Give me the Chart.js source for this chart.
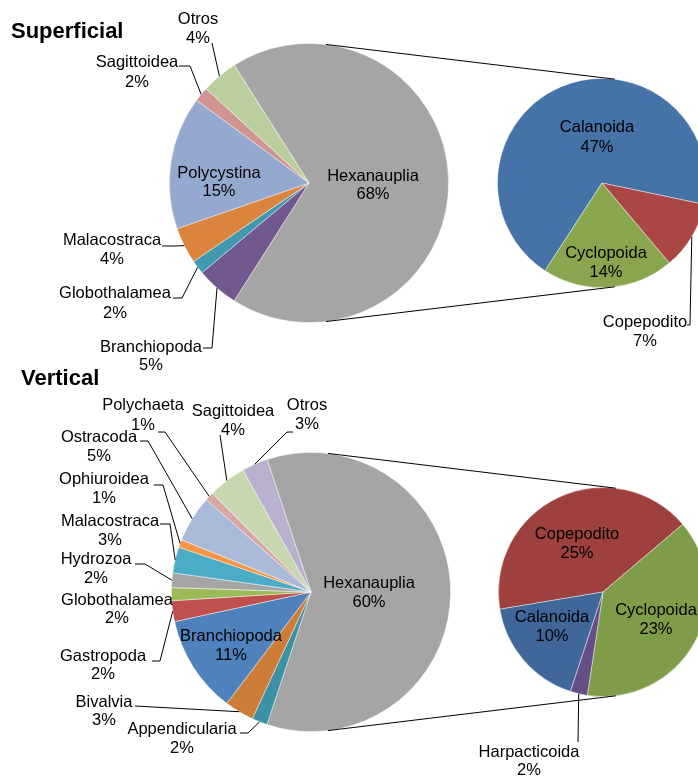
<!DOCTYPE html>
<html>
<head>
<meta charset="utf-8">
<script src="https://cdn.jsdelivr.net/npm/chart.js@4/dist/chart.umd.min.js"></script>
<style>
    html, body { margin: 0; padding: 0; background: #fff; overflow: hidden; }
    #wrap { position: relative; width: 698px; height: 776px; overflow: hidden; }
    #wrap canvas { position: absolute; left: 0; top: 0; }
    .title { position: absolute; font: bold 22px "Liberation Sans", Arial, sans-serif; color: #000; }
</style>
</head>
<body>
<div id="wrap">
    <canvas id="supMain" width="720" height="776"></canvas>
    <canvas id="supSub" width="720" height="776"></canvas>
    <canvas id="verMain" width="720" height="776"></canvas>
    <canvas id="verSub" width="720" height="776"></canvas>
    <div class="title" style="left:11px; top:18px;">Superficial</div>
    <div class="title" style="left:21px; top:365px;">Vertical</div>
</div>
<script>
// Superficial - main pie (clockwise from the split slice)
const supLabels = ["Hexanauplia", "Branchiopoda", "Globothalamea", "Malacostraca", "Polycystina", "Sagittoidea", "Otros"];
const supValues = [68.0, 4.9, 1.6, 4.2, 15.4, 1.7, 4.2];
// Superficial - Hexanauplia breakdown
const supSubLabels = ["Calanoida", "Copepodito", "Cyclopoida"];
const supSubValues = [47.0, 7.2, 13.8];

// Vertical - main pie
const verLabels = ["Hexanauplia", "Appendicularia", "Bivalvia", "Branchiopoda", "Gastropoda", "Globothalamea",
    "Hydrozoa", "Malacostraca", "Ophiuroidea", "Ostracoda", "Polychaeta", "Sagittoidea", "Otros"];
const verValues = [60.2, 1.8, 3.4, 11.3, 2.4, 1.5, 1.7, 3.0, 0.9, 5.4, 1.0, 4.4, 3.0];
// Vertical - Hexanauplia breakdown
const verSubLabels = ["Copepodito", "Cyclopoida", "Harpacticoida", "Calanoida"];
const verSubValues = [24.9, 23.2, 1.6, 10.4];

// colours
const supColors = ["#A5A5A5", "#71588F", "#4198AF", "#DB843D", "#95A9D0", "#D29493", "#BACF9B"];
const supSubColors = ["#4572A7", "#AA4643", "#89A54E"];
const verColors = ["#A5A5A5", "#3D91A7", "#CE7D38", "#4F81BD", "#C0504D", "#9BBB59",
    "#A5A5A5", "#4BACC6", "#F79646", "#A9BAD8", "#D9A6A6", "#C7D7B0", "#B9B0CE"];
const verSubColors = ["#9E413E", "#7F9C48", "#664F87", "#3F679A"];

// label placement: [x, line1 y, line2 y, leader path near the label (or null)]
const supPlace = [
    [373, 176, 194, null],
    [151, 347, 365, [[203, 348], [212, 348]]],
    [115, 293, 313, [[173, 298], [182, 298]]],
    [112, 240, 259, [[162, 246], [176, 246]]],
    [219, 173, 191, null],
    [137, 62, 82, [[179, 66], [190, 66]]],
    [198, 19, 38, [[212, 43]]],
];
const supSubPlace = [
    [597, 127, 147, null],
    [645, 322, 341, [[687, 325], [690, 325]]],
    [606, 253, 272, null],
];
const verPlace = [
    [369, 583, 602, null],
    [182, 729, 748, [[240, 733], [248, 733]]],
    [104, 702, 720, [[135, 706]]],
    [231, 636, 655, null],
    [103, 656, 674, [[152, 661], [160, 661]]],
    [117, 600, 618, null],
    [96, 559, 578, [[135, 564], [145, 564]]],
    [110, 521, 540, [[160, 524], [170, 524]]],
    [104, 479, 498, [[154, 485], [163, 485]]],
    [99, 437, 456, [[140, 441], [148, 441]]],
    [143, 405, 425, [[158, 432], [165, 432]]],
    [233, 411, 430, [[220, 435]]],
    [307, 405, 424, [[293, 432], [287, 432]]],
];
const verSubPlace = [
    [577, 534, 553, null],
    [656, 610, 629, null],
    [529, 752, 770, [[578, 742]]],
    [552, 617, 636, null],
];

const FONT = '16.5px "Liberation Sans", Arial, sans-serif';
const LINK_ANGLE = 83 * Math.PI / 180;

const sliceLabels = {
    id: "sliceLabels",
    afterDatasetsDraw(chart, args, opts) {
        const ctx = chart.ctx;
        const meta = chart.getDatasetMeta(0);
        const values = chart.data.datasets[0].data;
        ctx.save();
        ctx.font = FONT;
        ctx.fillStyle = "#000";
        ctx.strokeStyle = "#000";
        ctx.lineWidth = 1;
        ctx.textAlign = "center";
        ctx.textBaseline = "middle";
        meta.data.forEach((arc, i) => {
            const p = opts.place[i];
            if (!p) return;
            const [x, y1, y2, path] = p;
            if (path) {
                const mid = (arc.startAngle + arc.endAngle) / 2;
                ctx.beginPath();
                ctx.moveTo(path[0][0], path[0][1]);
                for (let k = 1; k < path.length; k++) ctx.lineTo(path[k][0], path[k][1]);
                ctx.lineTo(arc.x + Math.cos(mid) * arc.outerRadius, arc.y + Math.sin(mid) * arc.outerRadius);
                ctx.stroke();
            }
            ctx.fillText(chart.data.labels[i], x, y1);
            ctx.fillText(Math.round(values[i]) + "%", x, y2);
        });
        // connector lines from the main pie to the breakdown pie
        if (opts.main) {
            const big = opts.main.getDatasetMeta(0).data[0];
            const small = meta.data[0];
            ctx.beginPath();
            [-1, 1].forEach(s => {
                ctx.moveTo(big.x + Math.cos(s * LINK_ANGLE) * big.outerRadius, big.y + Math.sin(s * LINK_ANGLE) * big.outerRadius);
                ctx.lineTo(small.x + Math.cos(s * LINK_ANGLE) * small.outerRadius, small.y + Math.sin(s * LINK_ANGLE) * small.outerRadius);
            });
            ctx.stroke();
        }
        ctx.restore();
    }
};

function makePie(id, labels, values, colors, rotation, padding, place, main) {
    return new Chart(document.getElementById(id), {
        type: "pie",
        data: {
            labels: labels,
            datasets: [{
                data: values,
                backgroundColor: colors,
                borderColor: "rgba(255,255,255,0.55)",
                borderWidth: 0.8,
            }]
        },
        options: {
            responsive: false,
            animation: false,
            events: [],
            rotation: rotation,
            layout: { padding: padding },
            plugins: {
                legend: { display: false },
                tooltip: { enabled: false },
                sliceLabels: { place: place, main: main },
            },
        },
        plugins: [sliceLabels],
    });
}

// split slice centred on the right-hand side
const supRot = 90 - supValues[0] / supValues.reduce((a, b) => a + b, 0) * 180;
const verRot = 90 - verValues[0] / verValues.reduce((a, b) => a + b, 0) * 180;

const supMain = makePie("supMain", supLabels, supValues, supColors, supRot,
    { left: 169, right: 271, top: 43, bottom: 453 }, supPlace, null);
makePie("supSub", supSubLabels, supSubValues, supSubColors, 213,
    { left: 497, right: 13, top: 78, bottom: 488 }, supSubPlace, supMain);

const verMain = makePie("verMain", verLabels, verValues, verColors, verRot,
    { left: 171, right: 269, top: 452, bottom: 44 }, verPlace, null);
makePie("verSub", verSubLabels, verSubValues, verSubColors, 260.5,
    { left: 498, right: 12, top: 487, bottom: 79 }, verSubPlace, verMain);
</script>
</body>
</html>
